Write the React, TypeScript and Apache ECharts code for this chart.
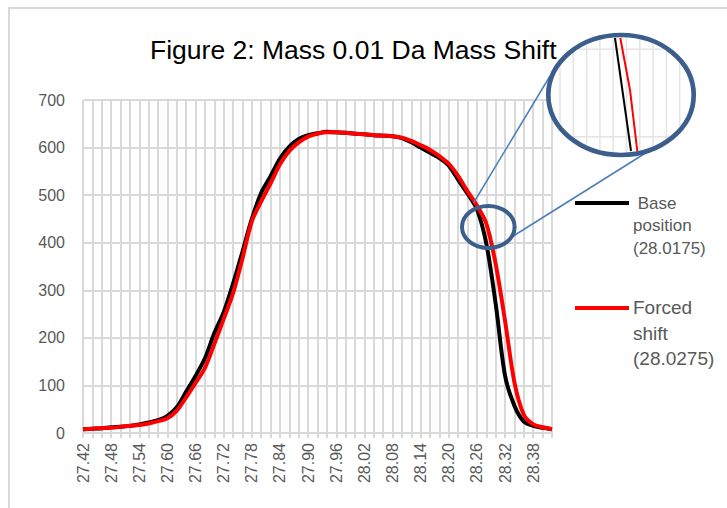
import React, { useEffect, useRef } from "react";
import * as echarts from "echarts";

const categories = [
  "27.42", "27.44", "27.46", "27.48", "27.50", "27.52", "27.54", "27.56", "27.58", "27.60",
  "27.62", "27.64", "27.66", "27.68", "27.70", "27.72", "27.74", "27.76", "27.78", "27.80",
  "27.82", "27.84", "27.86", "27.88", "27.90", "27.92", "27.94", "27.96", "27.98", "28.00",
  "28.02", "28.04", "28.06", "28.08", "28.10", "28.12", "28.14", "28.16", "28.18", "28.20",
  "28.22", "28.24", "28.26", "28.28", "28.30", "28.32", "28.34", "28.36", "28.38", "28.40",
  "28.42",
];

const baseValues = [
  8, 9, 10, 12, 13, 15, 18, 22, 27, 36,
  54, 87, 120, 157, 210, 254, 314, 381, 450, 505,
  540, 577, 602, 618, 626, 630, 633, 632, 631, 629,
  628, 626, 625, 624, 620, 611, 600, 589, 578, 562,
  532, 503, 470, 398, 271, 120, 57, 24, 15, 11,
  8,
];

const shiftValues = [
  8, 9, 10, 11, 13, 15, 17, 20, 25, 31,
  47, 75, 105, 137, 187, 240, 294, 367, 445, 487,
  525, 565, 593, 611, 623, 629, 632, 632, 631, 629,
  628, 626, 625, 624, 621, 614, 605, 595, 582, 566,
  540, 508, 478, 440, 355, 235, 106, 38, 18, 12,
  8,
];

const titleText = "Figure 2: Mass 0.01 Da Mass Shift";
const baseLegend = [" Base", "position", "(28.0175)"];
const shiftLegend = ["Forced", "shift", "(28.0275)"];

const FONT = "'Liberation Sans', Arial, sans-serif";
const GRID = "#d9d9d9";
const LABEL = "#595959";
const RING = "#3B5E8C";
const CONNECT = "#4A7EBB";

export default function App() {
  const ref = useRef<HTMLDivElement>(null);

  useEffect(() => {
    const chart = echarts.init(ref.current!, null, { renderer: "svg" });

    // magnifier geometry
    const bcx = 621, bcy = 95, brx = 72.7, bry = 60;
    const irx = 70, iry = 57.5;
    const innerGrid: any[] = [];
    for (let k = 0; k < 10; k++) {
      const x = 560 + k * 13.3;
      const t = (x - bcx) / irx;
      if (Math.abs(t) >= 1) continue;
      const h = iry * Math.sqrt(1 - t * t);
      innerGrid.push({
        type: "line",
        z: 101,
        shape: { x1: x, y1: bcy - h, x2: x, y2: bcy + h },
        style: { stroke: "#e4e4e4", lineWidth: 1.5 },
      });
    }
    [49.3, 136.7].forEach((y) => {
      const t = (y - bcy) / iry;
      const w = irx * Math.sqrt(1 - t * t);
      innerGrid.push({
        type: "line",
        z: 101,
        shape: { x1: bcx - w, y1: y, x2: bcx + w, y2: y },
        style: { stroke: "#e4e4e4", lineWidth: 1.5 },
      });
    });

    const legendText = (lines: string[], x: number, y0: number, gap: number, size: number) =>
      lines.map((t, i) => ({
        type: "text",
        z: 100,
        x,
        y: y0 + i * gap,
        style: {
          text: t,
          fill: LABEL,
          fontSize: size,
          fontFamily: FONT,
          align: "left",
          verticalAlign: "middle",
        },
      }));

    const option: any = {
      animation: false,
      backgroundColor: "#ffffff",
      title: {
        text: titleText,
        left: 150,
        top: 36,
        padding: 0,
        textStyle: { fontSize: 26.5, fontWeight: "normal", color: "#000000", fontFamily: FONT },
      },
      grid: { left: 83, top: 100, right: 175, bottom: 75, containLabel: false },
      xAxis: {
        type: "category",
        data: categories,
        boundaryGap: false,
        axisLine: { show: true, lineStyle: { color: GRID, width: 2 } },
        axisTick: { show: true, interval: 0, length: 5, lineStyle: { color: GRID, width: 2 } },
        splitLine: { show: true, interval: 0, lineStyle: { color: GRID, width: 2 } },
        axisLabel: {
          interval: 2,
          rotate: 90,
          margin: 10,
          fontSize: 16,
          color: LABEL,
          fontFamily: FONT,
        },
      },
      yAxis: {
        type: "value",
        min: 0,
        max: 700,
        interval: 100,
        axisLine: { show: false },
        axisTick: { show: false },
        splitLine: { show: true, lineStyle: { color: GRID, width: 2 } },
        axisLabel: { margin: 18, fontSize: 16, color: LABEL, fontFamily: FONT },
      },
      legend: { show: false },
      series: [
        {
          name: "Base position (28.0175)",
          type: "line",
          data: baseValues,
          smooth: 0.3,
          symbol: "none",
          lineStyle: { color: "#000000", width: 4 },
          itemStyle: { color: "#000000" },
          z: 3,
        },
        {
          name: "Forced shift (28.0275)",
          type: "line",
          data: shiftValues,
          smooth: 0.3,
          symbol: "none",
          lineStyle: { color: "#ff0000", width: 4 },
          itemStyle: { color: "#ff0000" },
          z: 4,
        },
      ],
      graphic: [
        {
          type: "rect",
          z: 100,
          shape: { x: 9, y: 8, width: 800, height: 600 },
          style: { fill: "none", stroke: GRID, lineWidth: 2 },
        },
        // legend
        {
          type: "line",
          z: 100,
          shape: { x1: 575, y1: 203, x2: 629, y2: 203 },
          style: { stroke: "#000000", lineWidth: 4 },
        },
        ...legendText(baseLegend, 633, 203, 22.7, 17),
        {
          type: "line",
          z: 100,
          shape: { x1: 575, y1: 308, x2: 629, y2: 308 },
          style: { stroke: "#ff0000", lineWidth: 4 },
        },
        ...legendText(shiftLegend, 633, 307.5, 25.5, 19),
        // connectors
        {
          type: "line",
          z: 100,
          shape: { x1: 473.5, y1: 203, x2: 550, y2: 76 },
          style: { stroke: CONNECT, lineWidth: 1.5 },
        },
        {
          type: "line",
          z: 100,
          shape: { x1: 513.3, y1: 236, x2: 668, y2: 139 },
          style: { stroke: CONNECT, lineWidth: 1.5 },
        },
        // small ring
        {
          type: "ellipse",
          z: 102,
          shape: { cx: 488.3, cy: 227, rx: 26.3, ry: 21 },
          style: { fill: "none", stroke: RING, lineWidth: 4 },
        },
        // big magnifier
        {
          type: "ellipse",
          z: 100,
          shape: { cx: bcx, cy: bcy, rx: brx, ry: bry },
          style: { fill: "#ffffff", stroke: "none" },
        },
        ...innerGrid,
        {
          type: "polyline",
          z: 101,
          shape: { points: [[615, 38], [631, 151]] },
          style: { stroke: "#000000", lineWidth: 2, fill: "none" },
        },
        {
          type: "polyline",
          z: 101,
          shape: { points: [[620.3, 38], [630, 90], [637.3, 151]] },
          style: { stroke: "#ff0000", lineWidth: 2, fill: "none" },
        },
        {
          type: "ellipse",
          z: 102,
          shape: { cx: bcx, cy: bcy, rx: brx, ry: bry },
          style: { fill: "none", stroke: RING, lineWidth: 4.7 },
        },
      ],
    };

    chart.setOption(option);
    return () => chart.dispose();
  }, []);

  return (
    <div
      ref={ref}
      style={{ position: "absolute", left: 0, top: 0, width: 727, height: 508 }}
    />
  );
}
